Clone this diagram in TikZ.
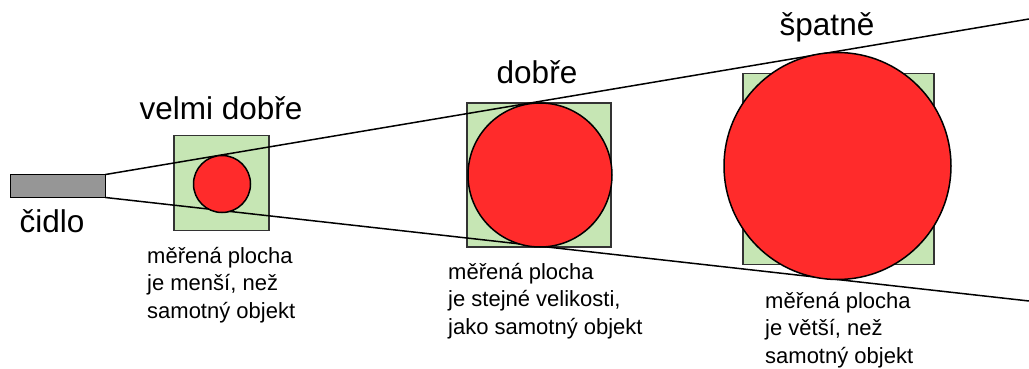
\documentclass[tikz,border=0pt]{standalone}
\usepackage{fontspec}
\setmainfont{Liberation Sans}
\definecolor{areagreen}{HTML}{C6E6B4}
\definecolor{objred}{HTML}{FF2B2B}
\definecolor{sensorgray}{HTML}{969696}
\definecolor{edgegray}{HTML}{333333}
\tikzset{
  bigtext/.style={font=\fontsize{31.5}{36}\selectfont, inner sep=0pt, anchor=base},
  smalltext/.style={font=\fontsize{22}{27.5}\selectfont, inner sep=0pt, anchor=base west, align=left},
  areabox/.style={draw=edgegray, fill=areagreen, line width=1.5pt, inner sep=0pt, outer sep=0pt, minimum width=#1, minimum height=#1},
  objcircle/.style={circle, draw=black, fill=objred, line width=1.5pt, inner sep=0pt, outer sep=0pt, minimum size=#1},
  beam/.style={draw=black, line width=1.5pt}
}
\begin{document}
\begin{tikzpicture}[x=1pt,y=-1pt]
\useasboundingbox (0,0) rectangle (1029,369);
% sensor
\node[draw=black, fill=sensorgray, line width=1.5pt, inner sep=0pt, outer sep=0pt,
      minimum width=95pt, minimum height=23pt] (sensor) at (58,186) {};
\node[bigtext] (cidlo) at (52,232) {čidlo};
% boxes
\node[areabox=95pt] (box1) at (221.5,183) {};
\node[areabox=144pt] (box2) at (539,175) {};
\node[areabox=191pt] (box3) at (838.5,169) {};
% beam
\coordinate (endtop) at (1029,19);
\coordinate (endbot) at (1029,301);
\draw[beam] (sensor.north east) -- (endtop);
\draw[beam] (sensor.south east) -- (endbot);
% objects
\node[objcircle=57pt] (obj1) at (222,184) {};
\node[objcircle=144pt] (obj2) at (540,175) {};
\node[objcircle=227pt] (obj3) at (837.5,166) {};
% headings
\node[bigtext] (h1) at (221,120) {velmi dobře};
\node[bigtext] (h2) at (537,84) {dobře};
\node[bigtext] (h3) at (827,36) {špatně};
% descriptions (anchor = baseline of last line)
\node[smalltext] (d1) at (147,318) {měřená plocha\\je menší, než\\samotný objekt};
\node[smalltext] (d2) at (448,334) {měřená plocha\\je stejné velikosti,\\jako samotný objekt};
\node[smalltext] (d3) at (765,363) {měřená plocha\\je větší, než\\samotný objekt};
\end{tikzpicture}
\end{document}
